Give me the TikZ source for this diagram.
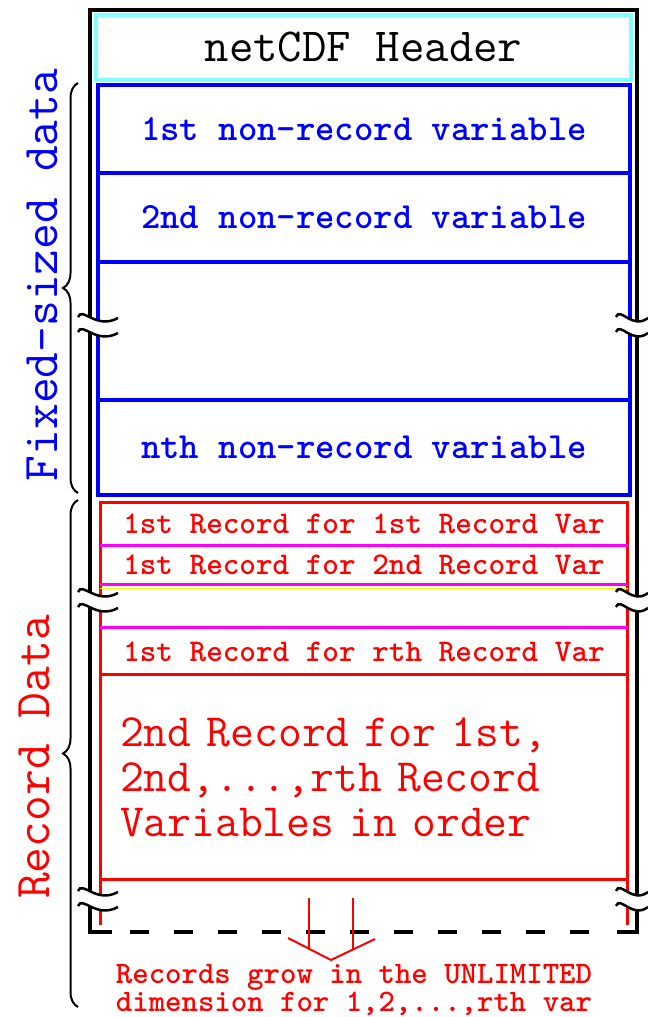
\documentclass[tikz,border=0pt]{standalone}
\usepackage{fontspec}
\usetikzlibrary{positioning, decorations.pathreplacing}
\definecolor{hdrcyan}{HTML}{80FFFF}
\definecolor{fixblue}{HTML}{0000FF}
\definecolor{recred}{HTML}{FF0000}
\definecolor{recmag}{HTML}{FF00FF}
\definecolor{recyel}{HTML}{FFFF00}

\begin{document}
\begin{tikzpicture}[x=0.02cm, y=-0.02cm,
    frame/.style={line width=0.08cm},
    hdr/.style={draw=hdrcyan, line width=0.08cm, outer sep=0pt,
                minimum width=10.7cm, minimum height=1.3cm,
                font=\ttfamily\fontsize{27}{30}\selectfont},
    fixrow/.style={draw=fixblue, text=fixblue, line width=0.07cm, outer sep=0pt,
                   minimum width=10.64cm,
                   font=\ttfamily\bfseries\fontsize{21}{24}\selectfont},
    recrow/.style={text=recred, outer sep=0pt, minimum width=10.56cm,
                   font=\ttfamily\bfseries\fontsize{18}{20}\selectfont},
    sep/.style={line width=0.06cm},
    brk/.style={line width=0.05cm},
    side/.style={rotate=90, font=\ttfamily\fontsize{28.5}{30}\selectfont}
  ]
  \useasboundingbox (0,0) rectangle (648,1017);

  % header + fixed-size part
  \node[hdr] (hdr) at (363.5,47.5) {netCDF Header};
  \node[fixrow, minimum height=1.76cm] (nv1) at (364,129) {1st non-record variable};
  \node[fixrow, minimum height=1.78cm, below=0pt of nv1] (nv2) {2nd non-record variable};
  \node[fixrow, minimum height=2.76cm, below=0pt of nv2] (nvgap) {};
  \node[fixrow, minimum height=1.9cm, below=0pt of nvgap] (nvn) {nth non-record variable};

  % record part
  \node[recrow, minimum height=0.86cm] (r1) at (364,523.5) {1st Record for 1st Record Var};
  \node[recrow, minimum height=0.8cm, below=0pt of r1] (r2) {1st Record for 2nd Record Var};
  \node[recrow, minimum height=0.86cm, below=0pt of r2] (rgap) {};
  \node[recrow, minimum height=0.94cm, below=0pt of rgap] (rr) {1st Record for rth Record Var};
  \node[recrow, minimum height=4.1cm, below=0pt of rr, align=left,
        text width=9.76cm, inner xsep=0.4cm,
        font=\ttfamily\fontsize{26.3}{25.5}\selectfont] (rall)
        {2nd Record for 1st,\\2nd,...,rth Record\\Variables in order};
  \node[recrow, minimum height=0.9cm, below=0pt of rall] (rtail) {};

  \draw[recred, sep] (rtail.south west) -- (r1.north west) -- (r1.north east) -- (rtail.south east);
  \foreach \a/\c in {r1/recmag, r2/recmag, rgap/recmag, rr/recred, rall/recred}
    \draw[\c, sep] (\a.south west) -- (\a.south east);
  \draw[recyel, line width=0.02cm] ([yshift=-2pt]r2.south west) -- ([yshift=-2pt]r2.south east);

  % outer frame, open (dashed) at the bottom
  \draw[frame] (112,932) -- (90,932) -- (90,10) -- (637,10) -- (637,932) -- (617,932);
  \draw[frame, dash pattern=on 0.38cm off 0.5cm] (130,932) -- (590,932);

  % break marks
  \foreach \by in {322, 597, 896} {
    \fill[white] (78,\by-5) .. controls (82,\by-16) and (96,\by+8) .. (118,\by-4)
      -- (118,\by+11) .. controls (96,\by+23) and (82,\by-1) .. (78,\by+10) -- cycle;
    \draw[brk] (78,\by-5) .. controls (82,\by-16) and (96,\by+8) .. (118,\by-4);
    \draw[brk] (78,\by+10) .. controls (82,\by-1) and (96,\by+23) .. (118,\by+11);
    \fill[white] (616,\by-5) .. controls (620,\by-16) and (632,\by+8) .. (648,\by-4)
      -- (648,\by+11) .. controls (632,\by+23) and (620,\by-1) .. (616,\by+10) -- cycle;
    \draw[brk] (616,\by-5) .. controls (620,\by-16) and (632,\by+8) .. (648,\by-4);
    \draw[brk] (616,\by+10) .. controls (620,\by-1) and (632,\by+23) .. (648,\by+11);
  }

  % braces and side labels
  \draw[decorate, decoration={brace, amplitude=0.3cm}, line width=0.04cm] (78,493) -- (78,83);
  \draw[decorate, decoration={brace, amplitude=0.3cm}, line width=0.04cm] (78,1007) -- (78,500);
  \node[side, text=fixblue] (fixlbl) at (42,275) {Fixed-sized data};
  \node[side, text=recred] (reclbl) at (35,757) {Record Data};

  % growth arrow
  \node[text=recred, align=center, font=\ttfamily\bfseries\fontsize{17.8}{16}\selectfont]
    (growtxt) at (354,990) {Records grow in the UNLIMITED\\dimension for 1,2,...,rth var};
  \coordinate (growtip) at (331,960);
  \draw[recred, line width=0.04cm] ([shift={(-22,-62)}]growtip) -- ([shift={(-22,-10)}]growtip);
  \draw[recred, line width=0.04cm] ([shift={(22,-62)}]growtip) -- ([shift={(22,-10)}]growtip);
  \draw[recred, line width=0.04cm] ([shift={(-43,-22)}]growtip) -- (growtip) -- ([shift={(44,-21)}]growtip);
\end{tikzpicture}
\end{document}
